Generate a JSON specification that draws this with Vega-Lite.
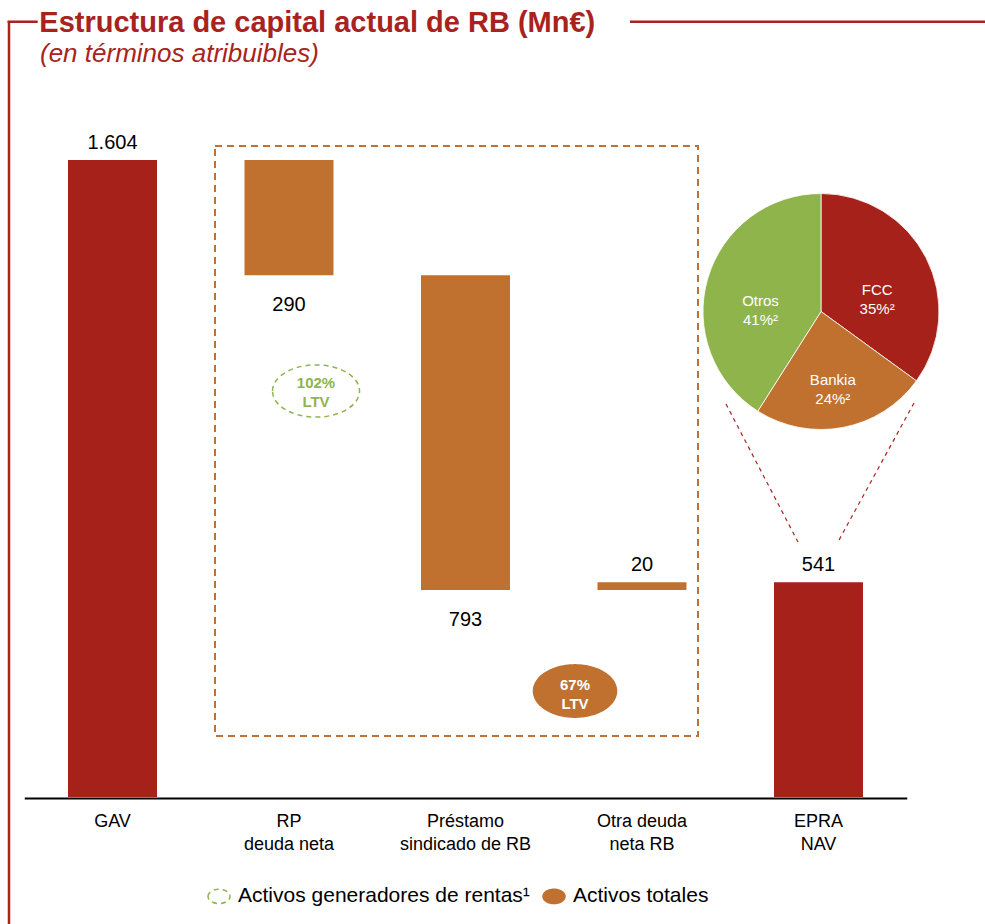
{
  "$schema": "https://vega.github.io/schema/vega-lite/v6.json",
  "width": 985,
  "height": 924,
  "autosize": {"type": "none"},
  "padding": 0,
  "background": "white",
  "config": {
    "view": {"stroke": null},
    "font": "Liberation Sans",
    "locale": {"number": {"decimal": ",", "thousands": ".", "grouping": [3], "currency": ["", " €"]}}
  },
  "resolve": {"scale": {"x": "independent", "color": "independent"}},
  "layer": [
    {
      "data": {"values": [
        {"category": "GAV", "start": 0, "end": 1604, "amount": 1604, "type": "total"},
        {"category": "RP\ndeuda neta", "start": 1604, "end": 1314, "amount": 290, "type": "decrease"},
        {"category": "Préstamo\nsindicado de RB", "start": 1314, "end": 521, "amount": 793, "type": "decrease"},
        {"category": "Otra deuda\nneta RB", "start": 521, "end": 541, "amount": 20, "type": "increase"},
        {"category": "EPRA\nNAV", "start": 0, "end": 541, "amount": 541, "type": "total"}
      ]},
      "encoding": {
        "x": {
          "field": "category", "type": "nominal", "sort": null,
          "scale": {"domain": ["GAV", "RP\ndeuda neta", "Préstamo\nsindicado de RB", "Otra deuda\nneta RB", "EPRA\nNAV"], "range": [24.25, 906.75], "paddingInner": 0.4958, "paddingOuter": 0.2479},
          "axis": {"orient": "bottom", "offset": -126, "title": null, "domainColor": "#000000", "domainWidth": 2, "ticks": false, "grid": false, "labelAngle": 0, "labelFontSize": 18, "labelFont": "Liberation Sans", "labelColor": "#000000", "labelPadding": 14, "labelLineHeight": 23, "labelExpr": "split(datum.label, '\\n')", "labelLimit": 300}
        }
      },
      "layer": [
        {
          "mark": {"type": "bar"},
          "encoding": {
            "y": {"field": "start", "type": "quantitative", "scale": {"domain": [-319.79, 2006.9], "nice": false, "zero": false}, "axis": null},
            "y2": {"field": "end"},
            "color": {"field": "type", "type": "nominal", "scale": {"domain": ["total", "decrease", "increase"], "range": ["#A5211A", "#C07130", "#C07130"]}, "legend": null}
          }
        },
        {
          "transform": [{"filter": "datum.type != 'decrease'"}],
          "mark": {"type": "text", "dy": -17, "fontSize": 20, "fill": "#000000", "baseline": "middle", "font": "Liberation Sans"},
          "encoding": {
            "y": {"field": "end", "type": "quantitative", "axis": null},
            "text": {"field": "amount", "type": "quantitative", "format": ",.0f"}
          }
        },
        {
          "transform": [{"filter": "datum.type == 'decrease'"}],
          "mark": {"type": "text", "dy": 30, "fontSize": 20, "fill": "#000000", "baseline": "middle", "font": "Liberation Sans"},
          "encoding": {
            "y": {"field": "end", "type": "quantitative", "axis": null},
            "text": {"field": "amount", "type": "quantitative", "format": ",.0f"}
          }
        }
      ]
    },
    {
      "data": {"values": [{}]},
      "layer": [
        {
          "mark": {"type": "rule", "color": "#A8231D", "strokeWidth": 2.5, "strokeCap": "butt"},
          "encoding": {
            "x": {"datum": 0.4136, "type": "quantitative", "scale": {"domain": [0.36261, 5.94334], "nice": false, "zero": false}, "axis": null},
            "y": {"datum": 1952.2, "type": "quantitative", "axis": null},
            "y2": {"datum": -319.79}
          }
        },
        {
          "mark": {"type": "rule", "color": "#A8231D", "strokeWidth": 2.5, "strokeCap": "butt"},
          "encoding": {
            "x": {"datum": 0.4051, "type": "quantitative", "scale": {"domain": [0.36261, 5.94334], "nice": false, "zero": false}, "axis": null},
            "x2": {"datum": 0.5762},
            "y": {"datum": 1952.2, "type": "quantitative", "axis": null}
          }
        },
        {
          "mark": {"type": "rule", "color": "#A8231D", "strokeWidth": 2.5, "strokeCap": "butt"},
          "encoding": {
            "x": {"datum": 3.93201, "type": "quantitative", "scale": {"domain": [0.36261, 5.94334], "nice": false, "zero": false}, "axis": null},
            "x2": {"datum": 5.94334},
            "y": {"datum": 1952.2, "type": "quantitative", "axis": null}
          }
        },
        {
          "mark": {"type": "text", "text": "Estructura de capital actual de RB (Mn€)", "align": "left", "baseline": "alphabetic", "fontSize": 29, "fontWeight": "bold", "fill": "#A8231D", "font": "Liberation Sans"},
          "encoding": {
            "x": {"datum": 0.58527, "type": "quantitative", "scale": {"domain": [0.36261, 5.94334], "nice": false, "zero": false}, "axis": null},
            "y": {"datum": 1927.05, "type": "quantitative", "axis": null}
          }
        },
        {
          "mark": {"type": "text", "text": "(en términos atribuibles)", "align": "left", "baseline": "alphabetic", "fontSize": 26, "fontStyle": "italic", "fill": "#A8231D", "font": "Liberation Sans"},
          "encoding": {
            "x": {"datum": 0.5892, "type": "quantitative", "scale": {"domain": [0.36261, 5.94334], "nice": false, "zero": false}, "axis": null},
            "y": {"datum": 1850.77, "type": "quantitative", "axis": null}
          }
        },
        {
          "mark": {"type": "rect", "fill": "white", "fillOpacity": 0, "stroke": "#C07130", "strokeWidth": 2, "strokeDash": [7, 5]},
          "encoding": {
            "x": {"datum": 1.5807, "type": "quantitative", "scale": {"domain": [0.36261, 5.94334], "nice": false, "zero": false}, "axis": null},
            "x2": {"datum": 4.3173},
            "y": {"datum": 1639.26, "type": "quantitative", "axis": null},
            "y2": {"datum": 153.6}
          }
        },
        {
          "mark": {"type": "rule", "color": "#A8231D", "strokeWidth": 1.2, "strokeDash": [4, 4]},
          "encoding": {
            "x": {"datum": 4.4759, "type": "quantitative", "scale": {"domain": [0.36261, 5.94334], "nice": false, "zero": false}, "axis": null},
            "x2": {"datum": 4.8839},
            "y": {"datum": 989.6, "type": "quantitative", "axis": null},
            "y2": {"datum": 642.1}
          }
        },
        {
          "mark": {"type": "rule", "color": "#A8231D", "strokeWidth": 1.2, "strokeDash": [4, 4]},
          "encoding": {
            "x": {"datum": 5.5411, "type": "quantitative", "scale": {"domain": [0.36261, 5.94334], "nice": false, "zero": false}, "axis": null},
            "x2": {"datum": 5.1162},
            "y": {"datum": 992.1, "type": "quantitative", "axis": null},
            "y2": {"datum": 647.1}
          }
        },
        {
          "data": {"values": [
            {"slice": "FCC", "share": 35, "seq": 1, "label": "FCC\n35%²"},
            {"slice": "Bankia", "share": 24, "seq": 2, "label": "Bankia\n24%²"},
            {"slice": "Otros", "share": 41, "seq": 3, "label": "Otros\n41%²"}
          ]},
          "layer": [
            {
              "mark": {"type": "arc", "radius": 118, "stroke": "white", "strokeWidth": 0.8},
              "encoding": {
                "x": {"datum": 5.0142, "type": "quantitative", "scale": {"domain": [0.36261, 5.94334], "nice": false, "zero": false}, "axis": null},
                "y": {"datum": 1222.5, "type": "quantitative", "axis": null},
                "theta": {"field": "share", "type": "quantitative", "stack": true},
                "order": {"field": "seq", "type": "quantitative"},
                "color": {"field": "slice", "type": "nominal", "scale": {"domain": ["FCC", "Bankia", "Otros"], "range": ["#A5211A", "#C07130", "#8FB44C"]}, "legend": null}
              }
            },
            {
              "mark": {"type": "text", "radius": 63, "dy": 7, "fill": "white", "fontSize": 15, "lineBreak": "\n", "lineHeight": 19, "baseline": "middle", "font": "Liberation Sans"},
              "encoding": {
                "x": {"datum": 5.0142, "type": "quantitative", "scale": {"domain": [0.36261, 5.94334], "nice": false, "zero": false}, "axis": null},
                "y": {"datum": 1222.5, "type": "quantitative", "axis": null},
                "theta": {"field": "share", "type": "quantitative", "stack": true},
                "order": {"field": "seq", "type": "quantitative"},
                "detail": {"field": "slice", "type": "nominal"},
                "text": {"field": "label"}
              }
            }
          ]
        },
        {
          "data": {"values": [{"basis": "Activos generadores de rentas¹", "label": "102%\nLTV"}]},
          "layer": [
            {
              "mark": {"type": "point", "shape": "M-1,0C-1,-0.3314,-0.5523,-0.6,0,-0.6C0.5523,-0.6,1,-0.3314,1,0C1,0.3314,0.5523,0.6,0,0.6C-0.5523,0.6,-1,0.3314,-1,0Z", "size": 7569, "filled": true, "opacity": 1, "strokeWidth": 1.5},
              "encoding": {
                "x": {"datum": 2.153, "type": "quantitative", "scale": {"domain": [0.36261, 5.94334], "nice": false, "zero": false}, "axis": null},
                "y": {"datum": 1022.3, "type": "quantitative", "axis": null},
                "fill": {"field": "basis", "type": "nominal", "scale": {"domain": ["Activos generadores de rentas¹", "Activos totales"], "range": ["rgba(255,255,255,0)", "#C07130"]},
                  "legend": {"orient": "none", "legendX": 207, "legendY": 884, "direction": "horizontal", "title": null, "padding": 0, "symbolType": "M-1,0C-1,-0.359,-0.5523,-0.65,0,-0.65C0.5523,-0.65,1,-0.359,1,0C1,0.359,0.5523,0.65,0,0.65C-0.5523,0.65,-1,0.359,-1,0Z", "symbolSize": 484, "symbolStrokeWidth": 1.5, "symbolOpacity": 1, "labelFontSize": 21, "labelFont": "Liberation Sans", "labelColor": "#000000", "labelOffset": 7, "columnPadding": 10, "labelLimit": 500}},
                "stroke": {"field": "basis", "type": "nominal", "scale": {"domain": ["Activos generadores de rentas¹", "Activos totales"], "range": ["#8FB44C", "#C07130"]}},
                "strokeDash": {"field": "basis", "type": "nominal", "scale": {"domain": ["Activos generadores de rentas¹", "Activos totales"], "range": [[5, 4], [1, 0]]}}
              }
            },
            {
              "mark": {"type": "text", "fontWeight": "bold", "fontSize": 15, "fill": "#8FB44C", "lineBreak": "\n", "lineHeight": 18.5, "baseline": "middle", "dy": -8, "font": "Liberation Sans"},
              "encoding": {
                "x": {"datum": 2.153, "type": "quantitative", "scale": {"domain": [0.36261, 5.94334], "nice": false, "zero": false}, "axis": null},
                "y": {"datum": 1022.3, "type": "quantitative", "axis": null},
                "text": {"field": "label"}
              }
            }
          ]
        },
        {
          "data": {"values": [{"basis": "Activos totales", "label": "67%\nLTV"}]},
          "layer": [
            {
              "mark": {"type": "point", "shape": "M-1,0C-1,-0.3479,-0.5523,-0.63,0,-0.63C0.5523,-0.63,1,-0.3479,1,0C1,0.3479,0.5523,0.63,0,0.63C-0.5523,0.63,-1,0.3479,-1,0Z", "size": 6889, "filled": true, "opacity": 1, "strokeWidth": 1.5},
              "encoding": {
                "x": {"datum": 3.6204, "type": "quantitative", "scale": {"domain": [0.36261, 5.94334], "nice": false, "zero": false}, "axis": null},
                "y": {"datum": 266.9, "type": "quantitative", "axis": null},
                "fill": {"field": "basis", "type": "nominal"},
                "stroke": {"field": "basis", "type": "nominal"},
                "strokeDash": {"field": "basis", "type": "nominal"}
              }
            },
            {
              "mark": {"type": "text", "fontWeight": "bold", "fontSize": 15, "fill": "white", "lineBreak": "\n", "lineHeight": 19, "baseline": "middle", "dy": -6, "font": "Liberation Sans"},
              "encoding": {
                "x": {"datum": 3.6204, "type": "quantitative", "scale": {"domain": [0.36261, 5.94334], "nice": false, "zero": false}, "axis": null},
                "y": {"datum": 266.9, "type": "quantitative", "axis": null},
                "text": {"field": "label"}
              }
            }
          ]
        }
      ]
    }
  ]
}
